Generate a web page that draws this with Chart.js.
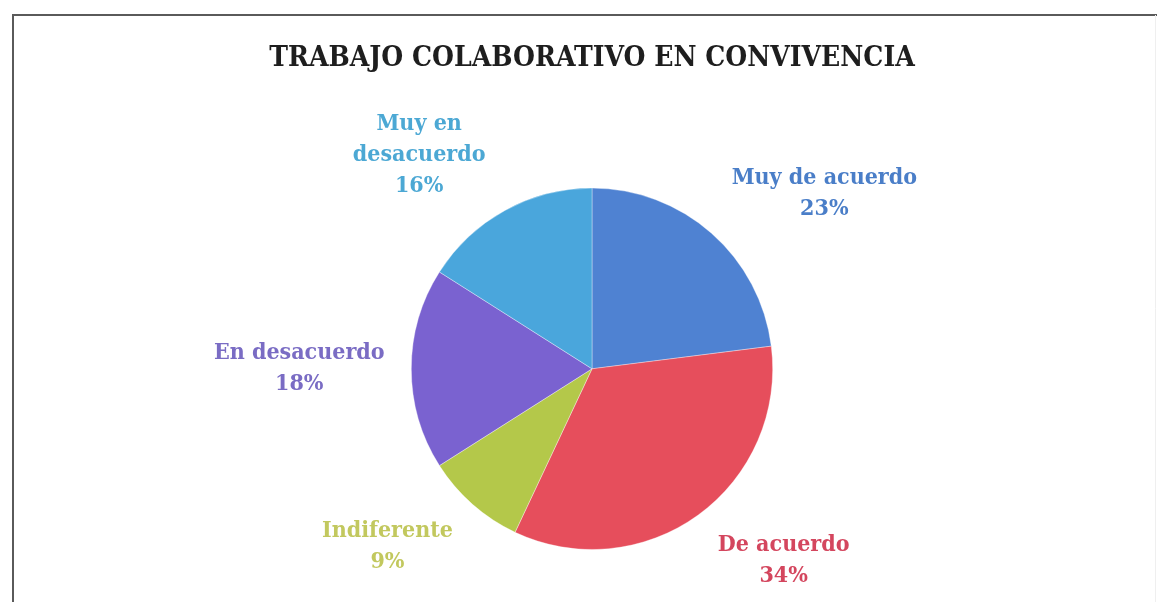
<!DOCTYPE html>
<html>
<head>
<meta charset="utf-8">
<script src="https://cdn.jsdelivr.net/npm/chart.js"></script>
<style>
    html, body { margin: 0; padding: 0; background: #ffffff; }
    #graph { display: block; }
</style>
</head>
<body>
<canvas id="graph" width="1157" height="602"></canvas>
<script>
const categories = ["Muy de acuerdo", "De acuerdo", "Indiferente", "En desacuerdo", "Muy en desacuerdo"];
const percents = [23, 34, 9, 18, 16];
const sliceColors = ["#4f82d2", "#e64e5c", "#b4c84a", "#7a62d0", "#4aa6dc"];
const labelColors = ["#4a7ec8", "#d4465e", "#c2c85e", "#7a6cc4", "#4ca8d4"];

// where each label sits: angle (deg clockwise from top) and distance in radii
const labelAngle = [53, 135, 229, 270, 321];
const labelDist = [1.61, 1.5, 1.5, 1.62, 1.52];
const labelFont = "bold 23px 'DejaVu Serif Condensed', 'DejaVu Serif', serif";

function wrapLines(name)
{
    // the long one breaks over two lines
    if (name === "Muy en desacuerdo")
    {
        return ["Muy en", "desacuerdo"];
    }
    return [name];
}

const frame = {
    id: "frame",
    beforeDraw(chart)
    {
        const ctx = chart.ctx;
        ctx.save();
        ctx.strokeStyle = "#5a5a5a";
        ctx.lineWidth = 2;
        ctx.beginPath();
        ctx.moveTo(13, 602);
        ctx.lineTo(13, 15);
        ctx.lineTo(1157, 15);
        ctx.stroke();
        ctx.strokeStyle = "#efefef";
        ctx.lineWidth = 1;
        ctx.beginPath();
        ctx.moveTo(1155.5, 15);
        ctx.lineTo(1155.5, 602);
        ctx.stroke();
        ctx.restore();
    }
};

const sliceLabels = {
    id: "sliceLabels",
    afterDraw(chart)
    {
        const ctx = chart.ctx;
        const arcs = chart.getDatasetMeta(0).data;
        ctx.save();
        ctx.font = labelFont;
        ctx.textAlign = "center";
        ctx.textBaseline = "middle";
        arcs.forEach((arc, i) => {
            const a = labelAngle[i] * Math.PI / 180;
            const r = arc.outerRadius * labelDist[i];
            const x = arc.x + Math.sin(a) * r;
            const y = arc.y - Math.cos(a) * r;
            const lines = wrapLines(categories[i]).concat([percents[i] + "%"]);
            const lh = 31;
            const top = y - (lines.length - 1) * lh / 2;
            ctx.fillStyle = labelColors[i];
            lines.forEach((t, k) => ctx.fillText(t, x, top + k * lh));
        });
        ctx.restore();
    }
};

new Chart(document.getElementById("graph"), {
    type: "pie",
    data: {
        labels: categories,
        datasets: [{
            data: percents,
            backgroundColor: sliceColors,
            borderColor: "rgba(255,255,255,0.35)",
            borderWidth: 1
        }]
    },
    options: {
        responsive: false,
        animation: false,
        devicePixelRatio: 1,
        layout: {
            padding: { top: 0, left: 227, right: 200, bottom: 52 }
        },
        plugins: {
            legend: { display: false },
            tooltip: { enabled: false },
            title: {
                display: true,
                text: "TRABAJO COLABORATIVO EN CONVIVENCIA",
                color: "#1e1e1e",
                font: { family: "'DejaVu Serif Condensed', 'DejaVu Serif', serif", size: 28, weight: "bold", lineHeight: 1.2 },
                padding: { top: 42, bottom: 112 }
            }
        }
    },
    plugins: [frame, sliceLabels]
});
</script>
</body>
</html>
